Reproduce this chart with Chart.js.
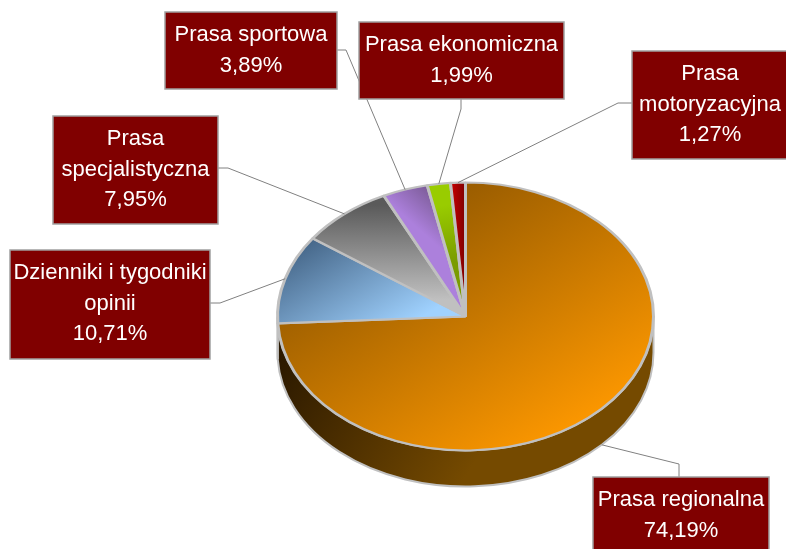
<!DOCTYPE html>
<html>
<head>
<meta charset="utf-8">
<title>Prasa</title>
<script src="https://cdn.jsdelivr.net/npm/chart.js@4/dist/chart.umd.min.js"></script>
<style>
	html, body { margin: 0; padding: 0; background: #fff; overflow: hidden; }
	canvas { display: block; }
</style>
</head>
<body>
<canvas id="chart" width="786" height="549"></canvas>
<script>
// data, clockwise from 12 o'clock
const categories = [
	'Prasa regionalna',
	['Dzienniki i tygodniki', 'opinii'],
	['Prasa', 'specjalistyczna'],
	'Prasa sportowa',
	'Prasa ekonomiczna',
	['Prasa', 'motoryzacyjna']
]
const shares = [74.19, 10.71, 7.95, 3.89, 1.99, 1.27]

// styling: gradient line in page pixels, dark end first
const sliceGradients = [
	{ from: [372, 248], to: [590, 430], stops: ['#9c5e00', '#ff9900'] },
	{ from: [300, 245], to: [400, 330], stops: ['#456688', '#a0d2ff'] },
	{ from: [0, 205], to: [0, 300], stops: ['#5a5a5a', '#c0c0c0'] },
	{ from: [430, 188], to: [395, 208], stops: ['#7c5c98', '#ac80dc'] },
	{ from: [462, 260], to: [445, 205], stops: ['#7a9c00', '#99cc00'] },
	{ from: [466, 195], to: [450, 195], stops: ['#7a0000', '#cc0000'] }
]

// callout layout: box, elbow next to the box, box edge point the leader leaves from
const callouts = [
	{ box: [593, 477, 176, 90], edge: [679, 477], elbow: [679, 464] },
	{ box: [10, 250, 200, 109], edge: [210, 303], elbow: [220, 303] },
	{ box: [53, 116, 165, 108], edge: [218, 168], elbow: [228, 168] },
	{ box: [165, 12, 172, 77], edge: [337, 50], elbow: [346, 50] },
	{ box: [359, 22, 205, 77], edge: [461, 99], elbow: [461, 109] },
	{ box: [632, 51, 160, 108], edge: [632, 103], elbow: [618, 103] }
]

const squish = 134 / 188
const depth = 36
const edgeColor = '#c0c0c0'

function pieCenterY(chart) {
	return (chart.chartArea.top + chart.chartArea.bottom) / 2
}

function sliceFill(context) {
	const chart = context.chart
	const g = sliceGradients[context.dataIndex]
	if (!chart.chartArea || !g) return '#999'
	// the pie is painted under a vertical scale, so undo it for the gradient line
	const cy = pieCenterY(chart)
	const fy = cy + (g.from[1] - cy) / squish
	const ty = cy + (g.to[1] - cy) / squish
	const grad = chart.ctx.createLinearGradient(g.from[0], fy, g.to[0], ty)
	grad.addColorStop(0, g.stops[0])
	grad.addColorStop(1, g.stops[1])
	return grad
}

const tiltPlugin = {
	id: 'tilt',
	beforeDatasetsDraw(chart) {
		const ctx = chart.ctx
		const arcs = chart.getDatasetMeta(0).data
		const side = ctx.createLinearGradient(280, 350, 470, 470)
		side.addColorStop(0, '#2a1800')
		side.addColorStop(1, '#754a00')

		ctx.save()
		ctx.lineWidth = 2
		ctx.strokeStyle = edgeColor
		ctx.fillStyle = side
		arcs.forEach(arc => {
			const { x, y, outerRadius, startAngle, endAngle } = arc.getProps(['x', 'y', 'outerRadius', 'startAngle', 'endAngle'], true)
			const a0 = Math.max(startAngle, 0)
			const a1 = Math.min(endAngle, Math.PI)
			if (a1 <= a0) return
			ctx.beginPath()
			ctx.ellipse(x, y, outerRadius, outerRadius * squish, 0, a0, a1)
			ctx.ellipse(x, y + depth, outerRadius, outerRadius * squish, 0, a1, a0, true)
			ctx.closePath()
			ctx.fill()
			ctx.stroke()
		})
		ctx.restore()

		const cy = pieCenterY(chart)
		ctx.save()
		ctx.translate(0, cy)
		ctx.scale(1, squish)
		ctx.translate(0, -cy)
	},
	afterDatasetsDraw(chart) {
		chart.ctx.restore()
	},
	afterDraw(chart) {
		const ctx = chart.ctx
		const arcs = chart.getDatasetMeta(0).data

		ctx.save()
		ctx.strokeStyle = '#808080'
		ctx.lineWidth = 1
		callouts.forEach((c, i) => {
			const { x, y, outerRadius, startAngle, endAngle } = arcs[i].getProps(['x', 'y', 'outerRadius', 'startAngle', 'endAngle'], true)
			const mid = (startAngle + endAngle) / 2
			const ax = x + Math.cos(mid) * outerRadius
			let ay = y + Math.sin(mid) * outerRadius * squish
			if (Math.sin(mid) > 0) ay += depth
			ctx.beginPath()
			ctx.moveTo(c.edge[0], c.edge[1])
			ctx.lineTo(c.elbow[0], c.elbow[1])
			ctx.lineTo(ax, ay)
			ctx.stroke()
		})

		ctx.font = '22px "Liberation Sans", Arial, sans-serif'
		ctx.textAlign = 'center'
		ctx.textBaseline = 'alphabetic'
		callouts.forEach((c, i) => {
			const [bx, by, bw, bh] = c.box
			ctx.fillStyle = '#800000'
			ctx.strokeStyle = '#a0a0a0'
			ctx.lineWidth = 1.5
			ctx.fillRect(bx, by, bw, bh)
			ctx.strokeRect(bx, by, bw, bh)

			const label = [].concat(categories[i])
			label.push(shares[i].toFixed(2).replace('.', ',') + '%')
			ctx.fillStyle = '#fff'
			const tx = i === 5 ? bx + 78 : bx + bw / 2
			label.forEach((line, n) => {
				ctx.fillText(line, tx, by + 29 + n * 30.5)
			})
		})
		ctx.restore()
	}
}

new Chart(document.getElementById('chart'), {
	type: 'pie',
	data: {
		labels: categories,
		datasets: [{
			data: shares,
			backgroundColor: sliceFill,
			borderColor: edgeColor,
			borderWidth: 3,
			hoverOffset: 0
		}]
	},
	options: {
		responsive: false,
		animation: false,
		// leaves a square centred on the pie
		layout: { padding: { left: 276, right: 131, top: 127, bottom: 43 } },
		plugins: { legend: { display: false }, tooltip: { enabled: false } }
	},
	plugins: [tiltPlugin]
})
</script>
</body>
</html>
